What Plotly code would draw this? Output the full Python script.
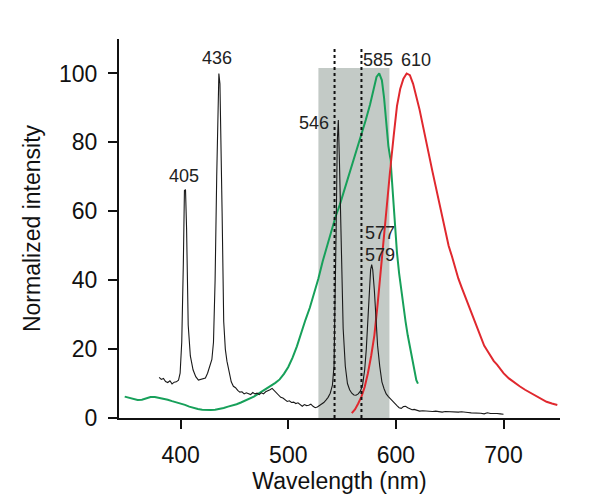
import plotly.graph_objects as go

# Mercury lamp lines (wavelength nm, normalized intensity)
mercury = [
    (380, 11.8), (382, 11.2), (384, 11.5), (386, 10.6), (388, 10.3), (390, 10.8), (392, 9.9),
    (394, 10.4), (396, 10.5), (398, 11.0), (399.5, 13), (401, 22), (402.5, 45), (403.5, 66),
    (404.5, 66.3), (405.5, 55), (407, 27), (409, 18), (411.5, 14), (414, 12), (416.5, 11),
    (419, 11.3), (421, 11.5), (423, 11.6), (425, 13), (427, 15), (429, 17), (430.5, 22),
    (432, 40), (433.5, 70), (434.5, 92), (435.5, 100), (436.5, 97), (437.5, 82), (438.5, 60),
    (440, 28), (441.5, 20), (443, 16.5), (445, 13), (447, 10.5), (449, 9.2), (451, 8.8),
    (453, 8.0), (455, 7.5), (457, 7.6), (459, 7.0), (461, 7.3), (463, 7.1), (465, 6.8),
    (467, 7.4), (469, 7.0), (471, 7.2), (473, 6.8), (475, 7.3), (477, 7.0), (479, 7.6),
    (481, 7.8), (483, 8.2), (485, 8.6), (487, 8.0), (489, 7.2), (491, 6.6), (493, 6.0),
    (495, 5.8), (497, 5.4), (499, 4.8), (501, 5.0), (503, 4.5), (505, 4.6), (507, 4.2),
    (509, 4.4), (511, 3.8), (513, 3.4), (515, 3.9), (517, 3.6), (519, 3.7), (521, 4.0),
    (523, 3.4), (525, 3.0), (527, 3.2), (529, 3.6), (531, 4.0), (533, 4.5), (535, 5.2),
    (537, 6.0), (539, 7.2), (541, 9.5), (542.5, 15), (543.5, 30), (544.5, 55), (545.5, 80),
    (546.5, 86.5), (547.5, 75), (548.5, 62), (549.5, 45), (551, 26), (553, 15), (555, 10),
    (557, 8.2), (559, 7.2), (561, 6.7), (563, 6.6), (565, 7.0), (567, 7.8), (569, 9.5),
    (571, 14), (572.5, 20), (574, 28), (575.5, 38), (576.5, 43), (577.5, 44.5), (578.5, 43),
    (580, 37), (581.5, 28), (583, 21), (585, 15), (587, 10.5), (589, 8.5), (591, 7.0),
    (593, 6.2), (595, 5.5), (597, 5.0), (599, 4.0), (601, 3.6), (603, 3.0), (605, 2.8),
    (607, 3.3), (609, 3.4), (611, 3.0), (613, 2.6), (615, 2.4), (617, 2.5), (619, 2.3),
    (622, 2.0), (625, 2.1), (628, 2.0), (631, 2.0), (634, 1.9), (637, 2.0), (640, 1.8),
    (643, 1.7), (646, 1.9), (649, 1.8), (652, 1.7), (655, 1.8), (658, 1.7), (661, 1.8),
    (664, 1.8), (667, 1.6), (670, 1.5), (673, 1.5), (676, 1.4), (679, 1.4), (682, 1.2),
    (685, 1.5), (688, 1.3), (691, 1.4), (694, 1.3), (697, 1.2), (700, 1.1),
]

# Green spectrum (peak 585)
green = [
    (348, 6.2), (352, 5.9), (356, 5.5), (360, 5.2), (364, 5.3), (368, 5.8), (372, 6.1),
    (376, 6.1), (380, 5.9), (384, 5.6), (388, 5.3), (392, 4.9), (396, 4.6), (400, 4.2),
    (404, 3.8), (408, 3.3), (412, 2.9), (416, 2.6), (420, 2.4), (424, 2.3), (428, 2.3),
    (432, 2.4), (436, 2.6), (440, 2.9), (444, 3.3), (448, 3.6), (452, 4.0), (456, 4.5),
    (460, 5.0), (464, 5.6), (468, 6.2), (472, 7.0), (476, 7.8), (480, 8.4), (484, 9.2),
    (488, 10.2), (492, 11.2), (496, 12.8), (500, 14.8), (504, 17.5), (508, 20.8), (512, 25),
    (516, 28.5), (520, 32), (524, 36), (528, 40.5), (532, 45.5), (536, 50), (540, 54.5),
    (544, 58.5), (548, 62), (552, 66), (556, 70), (560, 74), (564, 78.5), (568, 82.5),
    (572, 86.5), (576, 91), (579, 95.5), (582, 99), (584.5, 100), (587, 98), (589, 93),
    (591, 85), (593, 79), (595, 75), (597, 66), (599, 56), (601, 48), (603, 42), (605, 37),
    (607, 32), (609, 28), (611, 24), (613, 20.5), (615, 17), (617, 13.5), (619, 11),
    (620.5, 10),
]

# Red spectrum (peak 610)
red = [
    (559, 1.4), (562, 2.5), (565, 4.2), (568, 6.2), (571, 9), (574, 13), (577, 18), (580, 24),
    (583, 33), (586, 43), (589, 55), (592, 65), (595, 73), (598, 82), (601, 90.5), (604, 95.5),
    (607, 98.5), (610, 100), (613, 99.5), (616, 97), (619, 93.5), (622, 89.5), (625, 85),
    (628, 80), (631, 76), (634, 71.5), (637, 67), (640, 62.5), (643, 58), (646, 54), (649, 50),
    (652, 47), (655, 43.5), (658, 40.5), (661, 38), (664, 35.5), (667, 33), (670, 30.5),
    (673, 28), (676, 25.5), (679, 23), (682, 21), (685, 19.5), (688, 18), (691, 16.5),
    (694, 15.5), (697, 14.2), (700, 13), (705, 11.5), (710, 10.3), (715, 9.2), (720, 8.2),
    (725, 7.3), (730, 6.3), (735, 5.4), (740, 4.7), (745, 4.2), (750, 3.8),
]

band = (528, 594, 101.6)          # shaded filter band: start, end, top
marker_lines = [543, 568]          # dotted lines
labels = [                         # (text, x, y)
    ("405", 403.5, 70.1), ("436", 434.2, 104.6), ("546", 523.7, 85.5),
    ("543", 540.6, 111.6), ("568", 580.0, 111.6), ("585", 583.0, 104.0),
    ("610", 618.6, 104.0), ("577", 584.8, 53.6), ("579", 584.8, 47.4),
]
x_ticks = [400, 500, 600, 700]
y_ticks = [0, 20, 40, 60, 80, 100]

FONT = "Liberation Sans, Arial, Helvetica, sans-serif"

fig = go.Figure()
fig.add_trace(go.Scatter(x=[p[0] for p in green], y=[p[1] for p in green], mode="lines",
                         line=dict(color="#17a05a", width=2), cliponaxis=False))
fig.add_trace(go.Scatter(x=[p[0] for p in red], y=[p[1] for p in red], mode="lines",
                         line=dict(color="#e0282e", width=2), cliponaxis=False))
fig.add_trace(go.Scatter(x=[p[0] for p in mercury], y=[p[1] for p in mercury], mode="lines",
                         line=dict(color="#1a1a1a", width=1.1), cliponaxis=False))

fig.add_shape(type="rect", x0=band[0], x1=band[1], y0=0, y1=band[2], xref="x", yref="y",
              fillcolor="#c3cac6", line=dict(width=0), layer="below")
for xv in marker_lines:
    fig.add_shape(type="line", x0=xv, x1=xv, y0=0, y1=108, xref="x", yref="y",
                  line=dict(color="#111111", width=2, dash="dot"))
# small extension of the x axis line to the left of the y axis
fig.add_shape(type="line", x0=-0.018, x1=0, y0=0, y1=0, xref="paper", yref="y",
              line=dict(color="#111111", width=2))

for text, xv, yv in labels:
    fig.add_annotation(x=xv, y=yv, text=text, showarrow=False,
                       font=dict(family=FONT, size=18, color="#222222"))

fig.update_layout(
    width=605, height=502,
    margin=dict(l=119, r=45, t=39, b=84),
    paper_bgcolor="white", plot_bgcolor="white",
    showlegend=False,
    font=dict(family=FONT, color="#111111"),
)
fig.update_xaxes(range=[342.7, 752.5], tickvals=x_ticks, ticks="outside", ticklen=9,
                 tickwidth=2, tickcolor="#111111", showline=True, linewidth=2,
                 linecolor="#111111", showgrid=False, zeroline=False,
                 tickfont=dict(size=23, family=FONT, color="#111111"),
                 ticklabelstandoff=6,
                 title=dict(text="Wavelength (nm)", font=dict(size=23, family=FONT),
                            standoff=3))
fig.update_yaxes(range=[0, 110], tickvals=y_ticks, ticks="outside", ticklen=9,
                 tickwidth=2, tickcolor="#111111", showline=True, linewidth=2,
                 linecolor="#111111", showgrid=False, zeroline=False,
                 tickfont=dict(size=23, family=FONT, color="#111111"),
                 ticklabelstandoff=6,
                 title=dict(text="Normalized intensity", font=dict(size=23, family=FONT),
                            standoff=12))

fig.write_html("out.html")
